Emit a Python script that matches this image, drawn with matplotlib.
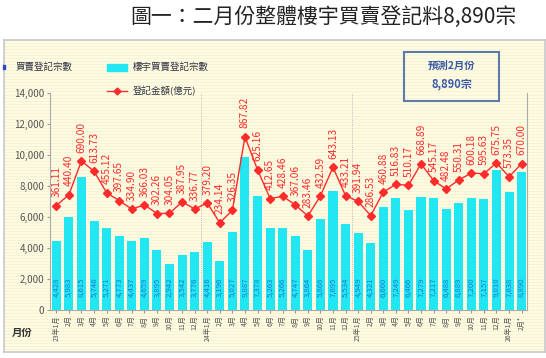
import numpy as np
import matplotlib
matplotlib.use('Agg')
import matplotlib.pyplot as plt
from matplotlib.patches import Rectangle
from matplotlib.lines import Line2D

plt.rcParams['font.family'] = ['Noto Sans CJK TC', 'DejaVu Sans']

# monthly data, 23年1月 .. 26年2月
months = ['23年1月', '2月', '3月', '4月', '5月', '6月', '7月', '8月', '9月', '10月', '11月', '12月',
          '24年1月', '2月', '3月', '4月', '5月', '6月', '7月', '8月', '9月', '10月', '11月', '12月',
          '25年1月', '2月', '3月', '4月', '5月', '6月', '7月', '8月', '9月', '10月', '11月', '12月',
          '26年1月', '2月*']
deals = [4428, 5983, 8615, 5746, 5271, 4773, 4437, 4659, 3895, 2942, 3542, 3776,
         4416, 3196, 5027, 9887, 7378, 5263, 5266, 4747, 3864, 5868, 7695, 5534,
         4949, 4321, 6660, 7249, 6466, 7279, 7217, 6488, 6889, 7200, 7157, 9010,
         7638, 8890]
amount = [361.11, 440.40, 690.00, 613.73, 455.12, 397.65, 334.90, 366.03, 302.26, 304.05, 387.95, 336.77,
          379.20, 234.14, 326.35, 867.82, 625.16, 412.65, 428.46, 367.06, 283.46, 432.59, 643.13, 433.21,
          391.94, 286.53, 460.88, 516.83, 510.17, 668.89, 545.17, 482.48, 550.31, 600.18, 595.63, 675.75,
          573.35, 670.00]
yticks = [0, 2000, 4000, 6000, 8000, 10000, 12000, 14000]

cyan = '#22e6f2'
red = '#ff2a2a'

fig = plt.figure(figsize=(5.46, 3.58), dpi=100)

# panel background
bg = fig.add_axes([0.008, 0.017, 0.99, 0.872])
bg.set_xlim(0, 1)
bg.set_ylim(0, 1)
bg.set_facecolor('#fdfbe1')
for yy in np.arange(0, 1, 0.0097):
    bg.axhline(yy, color='#f4f0cf', lw=0.5, zorder=0)
bg.set_xticks([])
bg.set_yticks([])
for s in bg.spines.values():
    s.set_color('#c8c8c8')
    s.set_linewidth(1.2)

fig.text(0.593, 0.952, '圖一：二月份整體樓宇買賣登記料8,890宗', ha='center', va='center',
         fontsize=15, color='#222222')

ax = fig.add_axes([0.0916, 0.134, 0.873, 0.606])
ax.patch.set_alpha(0)
x = np.arange(len(deals))
ax.bar(x, deals, width=0.72, color=cyan, zorder=2)
for xi, d in zip(x, deals):
    ax.text(xi, 1450, f'{d:,}', rotation=90, ha='center', va='center',
            fontsize=5.6, color='#1e7ad6', zorder=3)
ax.set_xlim(-0.5, len(deals) - 0.6)
ax.set_ylim(0, 14000)
ax.set_yticks(yticks)
ax.set_yticklabels([f'{v:,}' for v in yticks], fontsize=7, color='#555555')
ax.set_xticks(x)
ax.set_xticklabels(months, rotation=90, fontsize=5, color='#555555', va='top')
ax.tick_params(axis='both', length=2, color='#999999', pad=2)
ax.spines['top'].set_visible(False)
for s in ['left', 'right', 'bottom']:
    ax.spines[s].set_color('#aaaaaa')
for b in [11.5, 23.5]:
    ax.axvline(b, color='#aaaaaa', lw=0.6, ls=(0, (1, 1.5)), zorder=1)

ax2 = ax.twinx()
ax2.set_ylim(-409, 1190)
ax2.plot(x, amount, color=red, lw=1, marker='D', ms=4.3, zorder=4)
for xi, v in zip(x, amount):
    ax2.annotate(f'{v:.2f}', (xi, v), xytext=(0, 6), textcoords='offset points',
                 rotation=90, ha='center', va='bottom', fontsize=7.3, color=red)
ax2.set_yticks([])
for s in ax2.spines.values():
    s.set_visible(False)

fig.text(0.04, 0.07, '月份', fontsize=7.5, fontweight='bold', color='#333333', ha='center', va='center')

# legend
fig.add_artist(Rectangle((0.006, 0.806), 0.004, 0.012, transform=fig.transFigure, color='#3344cc'))
fig.text(0.028, 0.812, '買賣登記宗數', fontsize=6.8, color='#333344', va='center')
fig.add_artist(Rectangle((0.196, 0.802), 0.037, 0.018, transform=fig.transFigure, color=cyan))
fig.text(0.243, 0.812, '樓宇買賣登記宗數', fontsize=6.8, color='#333344', va='center')
fig.add_artist(Line2D([0.196, 0.233], [0.745, 0.745], transform=fig.transFigure, color=red, lw=1))
fig.add_artist(Line2D([0.2145], [0.745], transform=fig.transFigure, color=red, marker='D', ms=3.5))
fig.text(0.243, 0.745, '登記金額(億元)', fontsize=6.8, color='#333344', va='center')

# forecast box
fig.add_artist(Rectangle((0.74, 0.718), 0.174, 0.137, transform=fig.transFigure,
                         facecolor='none', edgecolor='#5d7aaa', lw=1.5))
fig.text(0.827, 0.817, '預測2月份', fontsize=7.5, fontweight='bold', color='#3a5aa8', ha='center', va='center')
fig.text(0.827, 0.765, '8,890宗', fontsize=8, fontweight='bold', color='#3a5aa8', ha='center', va='center')

fig.savefig('out.png', dpi=100)
